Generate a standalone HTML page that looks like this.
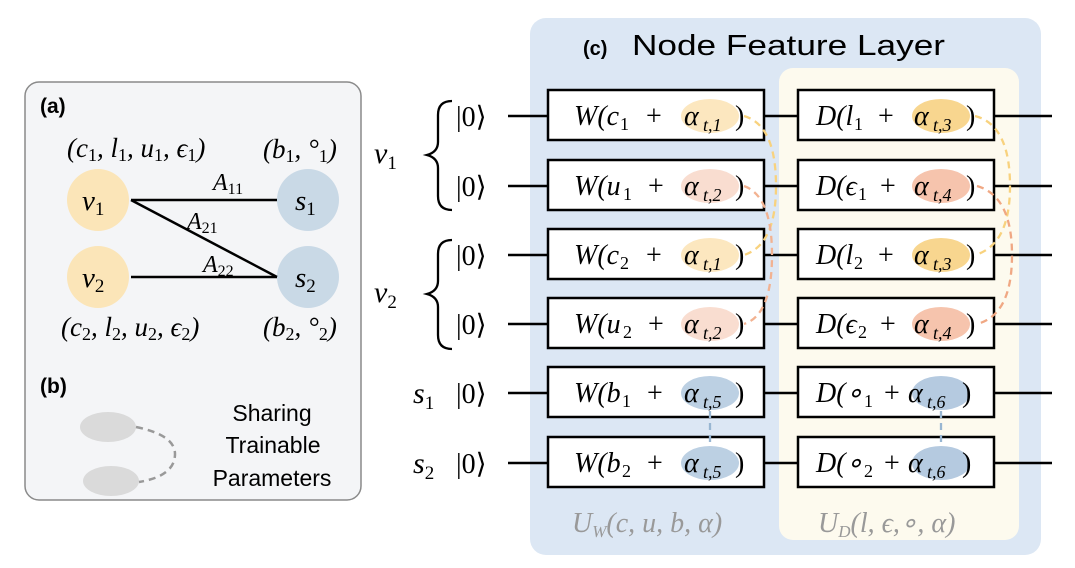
<!DOCTYPE html>
<html><head><meta charset="utf-8"><style>
html,body{margin:0;padding:0;background:#fff;}
svg{display:block;}
.m{font-family:"Liberation Serif",serif;font-style:italic;}
.n{font-family:"Liberation Serif",serif;font-style:normal;}
.s{font-family:"Liberation Sans",sans-serif;}
</style></head><body>
<svg width="1075" height="568" viewBox="0 0 1075 568" xmlns="http://www.w3.org/2000/svg">
<rect x="25" y="82" width="336" height="418" rx="14" fill="#f4f5f7" stroke="#8a8a8a" stroke-width="1.5"/>
<text x="40" y="113" class="s" font-weight="bold" font-size="21">(a)</text>
<text x="40" y="393" class="s" font-weight="bold" font-size="21">(b)</text>
<circle cx="98" cy="200" r="31" fill="#fbe5b8"/>
<circle cx="98" cy="277" r="31" fill="#fbe5b8"/>
<circle cx="308" cy="200" r="31" fill="#c9d9e6"/>
<circle cx="308" cy="277" r="31" fill="#c9d9e6"/>
<g stroke="#000" stroke-width="2.5">
<line x1="131" y1="200" x2="277" y2="200"/>
<line x1="131" y1="200" x2="277" y2="277"/>
<line x1="131" y1="277" x2="277" y2="277"/>
</g>
<g class="m" font-size="29">
<text x="82" y="210">v<tspan class="n" font-size="19" dy="5">1</tspan></text>
<text x="82" y="287">v<tspan class="n" font-size="19" dy="5">2</tspan></text>
<text x="295" y="210">s<tspan class="n" font-size="19" dy="5">1</tspan></text>
<text x="295" y="287">s<tspan class="n" font-size="19" dy="5">2</tspan></text>
</g>
<g class="m" font-size="24">
<text x="213" y="190">A<tspan class="n" font-size="16" dy="4">11</tspan></text>
<text x="187" y="229">A<tspan class="n" font-size="16" dy="4">21</tspan></text>
<text x="203" y="272">A<tspan class="n" font-size="16" dy="4">22</tspan></text>
</g>
<g class="m" font-size="27">
<text x="67" y="157">(c<tspan class="n" font-size="18" dy="4">1</tspan><tspan dy="-4">, l</tspan><tspan class="n" font-size="18" dy="4">1</tspan><tspan dy="-4">, u</tspan><tspan class="n" font-size="18" dy="4">1</tspan><tspan dy="-4">, ϵ</tspan><tspan class="n" font-size="18" dy="4">1</tspan><tspan dy="-4">)</tspan></text>
<text x="61" y="336">(c<tspan class="n" font-size="18" dy="4">2</tspan><tspan dy="-4">, l</tspan><tspan class="n" font-size="18" dy="4">2</tspan><tspan dy="-4">, u</tspan><tspan class="n" font-size="18" dy="4">2</tspan><tspan dy="-4">, ϵ</tspan><tspan class="n" font-size="18" dy="4">2</tspan><tspan dy="-4">)</tspan></text>
<text x="263" y="158">(b<tspan class="n" font-size="18" dy="4">1</tspan><tspan dy="-4">, °</tspan><tspan class="n" font-size="18" dy="4">1</tspan><tspan dy="-4">)</tspan></text>
<text x="263" y="336">(b<tspan class="n" font-size="18" dy="4">2</tspan><tspan dy="-4">, °</tspan><tspan class="n" font-size="18" dy="4">2</tspan><tspan dy="-4">)</tspan></text>
</g>
<ellipse cx="108" cy="427" rx="28" ry="15" fill="#dadada"/>
<ellipse cx="111" cy="481" rx="28" ry="15" fill="#dadada"/>
<path d="M136 427 Q175 435 175 454 Q175 476 139 482" fill="none" stroke="#999" stroke-width="2.5" stroke-dasharray="7,5"/>
<g class="s" font-size="23" text-anchor="middle">
<text x="272" y="421">Sharing</text>
<text x="273" y="453">Trainable</text>
<text x="272" y="486">Parameters</text>
</g>
<rect x="530" y="18" width="511" height="537" rx="16" fill="#dce7f4"/>
<rect x="779" y="68" width="240" height="472" rx="14" fill="#fdfaee"/>
<text x="583" y="55" class="s" font-size="20" font-weight="bold">(c)</text>
<text x="632" y="55" class="s" font-size="29" textLength="313" lengthAdjust="spacingAndGlyphs">Node Feature Layer</text>
<g stroke="#000" stroke-width="2.5">
<line x1="508" y1="116" x2="1052" y2="116"/>
<line x1="508" y1="186" x2="1052" y2="186"/>
<line x1="508" y1="255" x2="1052" y2="255"/>
<line x1="508" y1="324" x2="1052" y2="324"/>
<line x1="508" y1="393" x2="1052" y2="393"/>
<line x1="508" y1="463" x2="1052" y2="463"/>
</g>
<g fill="#fff" stroke="#000" stroke-width="2.5">
<rect x="548" y="90" width="216" height="50"/><rect x="548" y="160" width="216" height="50"/>
<rect x="548" y="229" width="216" height="50"/><rect x="548" y="298" width="216" height="50"/>
<rect x="548" y="367" width="216" height="50"/><rect x="548" y="437" width="216" height="50"/>
<rect x="798" y="90" width="196" height="50"/><rect x="798" y="160" width="196" height="50"/>
<rect x="798" y="229" width="196" height="50"/><rect x="798" y="298" width="196" height="50"/>
<rect x="798" y="367" width="196" height="50"/><rect x="798" y="437" width="196" height="50"/>
</g>
<g>
<ellipse cx="710" cy="116" rx="29" ry="17" fill="#fce7bf"/>
<ellipse cx="710" cy="186" rx="29" ry="17" fill="#f9ddd0"/>
<ellipse cx="710" cy="255" rx="29" ry="17" fill="#fce7bf"/>
<ellipse cx="710" cy="324" rx="29" ry="17" fill="#f9ddd0"/>
<ellipse cx="710" cy="393" rx="29" ry="17" fill="#bcd0e3"/>
<ellipse cx="710" cy="463" rx="29" ry="17" fill="#bcd0e3"/>
<ellipse cx="941" cy="116" rx="29" ry="17" fill="#f8d68f"/>
<ellipse cx="941" cy="186" rx="29" ry="17" fill="#f6c4ad"/>
<ellipse cx="941" cy="255" rx="29" ry="17" fill="#f8d68f"/>
<ellipse cx="941" cy="324" rx="29" ry="17" fill="#f6c4ad"/>
<ellipse cx="941" cy="393" rx="29" ry="17" fill="#b5cae0"/>
<ellipse cx="941" cy="463" rx="29" ry="17" fill="#b5cae0"/>
</g>
<g fill="none" stroke-width="2.3" stroke-dasharray="7,5">
<path d="M744 116 Q776 125 776 186 Q776 245 744 255" stroke="#f8d27e"/>
<path d="M744 186 Q772 196 772 255 Q772 315 744 324" stroke="#f2b291"/>
<path d="M975 116 Q1010 125 1010 186 Q1010 245 975 255" stroke="#f8d27e"/>
<path d="M977 186 Q1012 196 1012 255 Q1012 315 977 324" stroke="#f0a884"/>
<line x1="710" y1="411" x2="710" y2="446" stroke="#98b6d2"/>
<line x1="941" y1="411" x2="941" y2="446" stroke="#98b6d2"/>
</g>
<g class="m" font-size="28">
<g transform="translate(0,125)"><text x="574">W(c</text><text x="620" y="5" class="n" font-size="18">1</text><text x="646" class="n">+</text><text x="684">α</text><text x="703" y="6" font-size="18">t,1</text><text x="735" class="n">)</text></g>
<g transform="translate(0,195)"><text x="574">W(u</text><text x="623" y="5" class="n" font-size="18">1</text><text x="648" class="n">+</text><text x="684">α</text><text x="703" y="6" font-size="18">t,2</text><text x="735" class="n">)</text></g>
<g transform="translate(0,264)"><text x="574">W(c</text><text x="620" y="5" class="n" font-size="18">2</text><text x="646" class="n">+</text><text x="684">α</text><text x="703" y="6" font-size="18">t,1</text><text x="735" class="n">)</text></g>
<g transform="translate(0,333)"><text x="574">W(u</text><text x="623" y="5" class="n" font-size="18">2</text><text x="648" class="n">+</text><text x="684">α</text><text x="703" y="6" font-size="18">t,2</text><text x="735" class="n">)</text></g>
<g transform="translate(0,402)"><text x="574">W(b</text><text x="622" y="5" class="n" font-size="18">1</text><text x="647" class="n">+</text><text x="684">α</text><text x="703" y="6" font-size="18">t,5</text><text x="735" class="n">)</text></g>
<g transform="translate(0,472)"><text x="574">W(b</text><text x="622" y="5" class="n" font-size="18">2</text><text x="647" class="n">+</text><text x="684">α</text><text x="703" y="6" font-size="18">t,5</text><text x="735" class="n">)</text></g>
<g transform="translate(0,125)"><text x="816">D(l</text><text x="854" y="5" class="n" font-size="18">1</text><text x="878" class="n">+</text><text x="914">α</text><text x="933" y="6" font-size="18">t,3</text><text x="966" class="n">)</text></g>
<g transform="translate(0,195)"><text x="816">D(ϵ</text><text x="858" y="5" class="n" font-size="18">1</text><text x="880" class="n">+</text><text x="914">α</text><text x="933" y="6" font-size="18">t,4</text><text x="966" class="n">)</text></g>
<g transform="translate(0,264)"><text x="816">D(l</text><text x="854" y="5" class="n" font-size="18">2</text><text x="878" class="n">+</text><text x="914">α</text><text x="933" y="6" font-size="18">t,3</text><text x="966" class="n">)</text></g>
<g transform="translate(0,333)"><text x="816">D(ϵ</text><text x="858" y="5" class="n" font-size="18">2</text><text x="880" class="n">+</text><text x="914">α</text><text x="933" y="6" font-size="18">t,4</text><text x="966" class="n">)</text></g>
<g transform="translate(0,402)"><text x="816">D(∘</text><text x="864" y="5" class="n" font-size="18">1</text><text x="884" class="n">+</text><text x="908">α</text><text x="927" y="6" font-size="18">t,6</text><text x="962" class="n">)</text></g>
<g transform="translate(0,472)"><text x="816">D(∘</text><text x="864" y="5" class="n" font-size="18">2</text><text x="884" class="n">+</text><text x="908">α</text><text x="927" y="6" font-size="18">t,6</text><text x="962" class="n">)</text></g>
</g>
<g class="m" font-size="28" fill="#999">
<text x="572" y="532">U<tspan font-size="17" dy="5">W</tspan><tspan dy="-5">(c, u, b, α)</tspan></text>
<text x="818" y="532">U<tspan font-size="17" dy="5">D</tspan><tspan dy="-5">(l, ϵ,∘, α)</tspan></text>
</g>
<g font-family="Liberation Serif,serif" font-size="28">
<text x="456" y="126">|0⟩</text><text x="456" y="196">|0⟩</text>
<text x="456" y="265">|0⟩</text><text x="456" y="334">|0⟩</text>
<text x="456" y="403">|0⟩</text><text x="456" y="473">|0⟩</text>
</g>
<g class="m" font-size="30">
<text x="374" y="163">v<tspan class="n" font-size="19" dy="6">1</tspan></text>
<text x="374" y="302">v<tspan class="n" font-size="19" dy="6">2</tspan></text>
<text x="413" y="403">s<tspan class="n" font-size="19" dy="6">1</tspan></text>
<text x="413" y="473">s<tspan class="n" font-size="19" dy="6">2</tspan></text>
</g>
<g fill="none" stroke="#000" stroke-width="2.3">
<path d="M452 101 Q438 101 438 115 L438 142 Q438 152 427 155 Q438 158 438 168 L438 196 Q438 210 452 210"/>
<path d="M452 240 Q438 240 438 254 L438 281 Q438 291 427 294 Q438 297 438 307 L438 335 Q438 349 452 349"/>
</g>
</svg>
</body></html>
